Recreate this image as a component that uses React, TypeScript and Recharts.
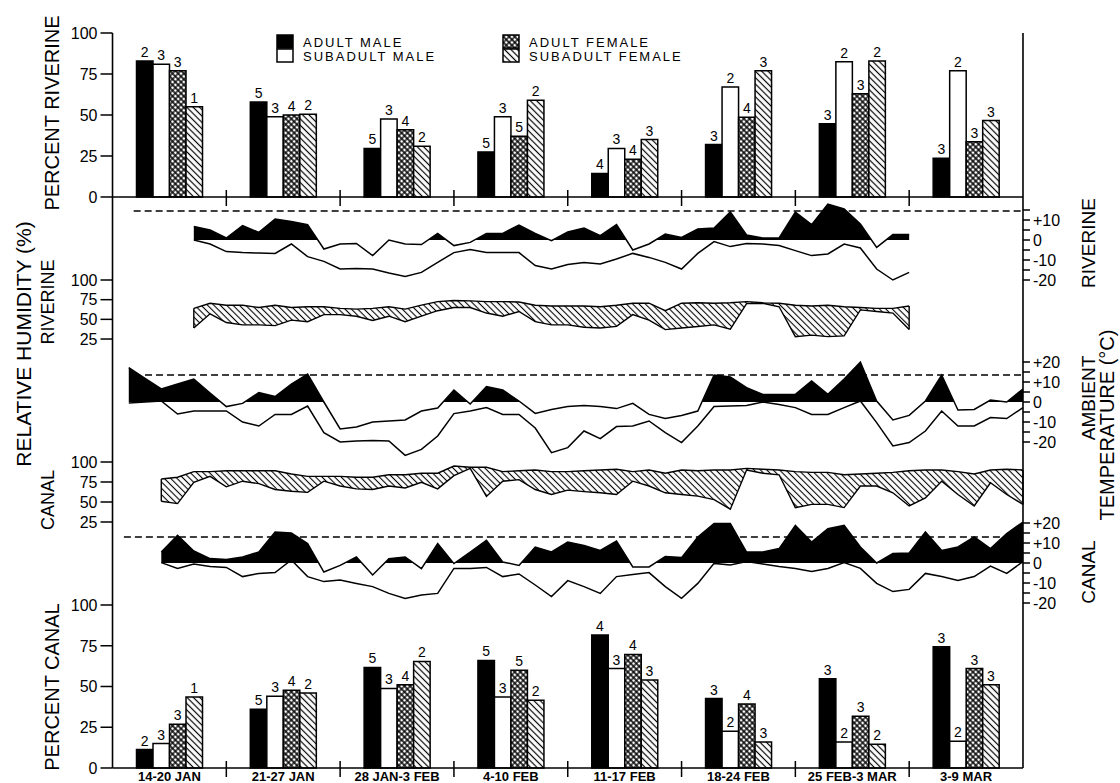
import React from 'react';
import { BarChart, Bar, XAxis, YAxis, LabelList, ComposedChart, Area, Line, ReferenceLine } from 'recharts';

const FONT = '"Liberation Sans", Arial, Helvetica, sans-serif';

const WEEKS = ['14-20 JAN', '21-27 JAN', '28 JAN-3 FEB', '4-10 FEB', '11-17 FEB', '18-24 FEB', '25 FEB-3 MAR', '3-9 MAR'];

// percent of locations in riverine habitat
const RIV_ADULT_M = [83, 58, 29.6, 27.5, 14.4, 32, 44.6, 23.6];
const RIV_SUB_M = [81, 49, 47.6, 49, 29.6, 67, 82.5, 77];
const RIV_ADULT_F = [77, 50, 41, 37, 23, 48.7, 63, 33.7];
const RIV_SUB_F = [55, 50.5, 31, 59, 35, 77, 83, 46.6];

// percent of locations in canal habitat
const CAN_ADULT_M = [11.3, 36, 61.7, 66, 81.6, 42.6, 54.7, 74.4];
const CAN_SUB_M = [15, 44, 48.8, 43.6, 61, 22.5, 16, 16.4];
const CAN_ADULT_F = [26.8, 47.7, 51, 60, 69.7, 39.3, 31.8, 61];
const CAN_SUB_F = [43.6, 46, 65.4, 41.6, 54, 16, 14.5, 51];

// number of animals above each bar
const N_ADULT_M = [2, 5, 5, 5, 4, 3, 3, 3];
const N_SUB_M = [3, 3, 3, 3, 3, 2, 2, 2];
const N_ADULT_F = [3, 4, 4, 5, 4, 4, 3, 3];
const N_SUB_F = [1, 2, 2, 2, 3, 3, 2, 3];

const PCT_TICKS = [0, 25, 50, 75, 100];
const RH_TICKS = [25, 50, 75, 100];
const RIV_T_TICKS = [-20, -15, -10, -5, 0, 5, 10, 15];
const T_TICKS = [-20, -15, -10, -5, 0, 5, 10, 15, 20];

// daily readings, day 1 = 14 Jan, day 56 = 9 Mar
const N_DAYS = 56;

const RIV_FIRST_DAY = 5;
const RIV_TMAX = [6.7, 5, 1, 7.2, 3.8, 10.5, 9.2, 7.7, -4.5, -2, -1.7, -7.8, 0, -2, -2.3, 3.3, -2.8, -1.2, 3.3, 3.3, 7.5, 3.3, -0.3, 4, 6, 2.2, 7.7, -5, -2, 3, 1.3, 5.5, 6, 14, 2.5, 1, 1, 14, 7.7, 18, 15.5, 8, -3.7, 2.7, 2.7];
const RIV_TMIN = [0, -2, -5.8, -6.3, -6.5, -6.7, -2, -8.3, -10.7, -14.5, -14.3, -14.5, -16.5, -18.2, -16.2, -11.2, -6.3, -4.7, -6.2, -6.2, -6.3, -12.8, -14.5, -12.3, -11.2, -12, -9.5, -6.7, -8.7, -11.2, -14.5, -6.7, -0.8, -3.3, -1.7, -2, -2.8, -5.3, -7.8, -7, -2, -4, -14.5, -20, -16.2];
const RIV_RH_MAX = [64, 70.5, 68, 68, 65, 68, 65, 66, 66, 64, 63, 64, 66, 63, 68, 72.5, 74, 73.5, 72.5, 72.5, 72, 68, 67, 67, 67, 66, 68, 70.5, 70.5, 61, 70.5, 71, 70.5, 71, 72.5, 71, 70.5, 68, 67, 68, 66, 65, 64, 64, 67];
const RIV_RH_MIN = [39, 57, 46, 43, 43, 42, 49, 47, 56, 56, 54, 48.5, 54, 47, 54, 61, 65, 65, 58, 54, 60, 47, 43, 43, 40, 39, 41, 56, 49, 37, 39, 41, 43, 37.5, 70, 70.5, 66, 28, 30, 28, 29, 62, 60, 58, 37];
const RIV_DASH = 14.5;

const AMB_FIRST_DAY = 1;
const AMB_TMAX = [17.2, 11.8, 6.5, 9, 11.5, 4.5, -2.3, -0.7, 4.7, 2.7, 9, 14, 0, -13.5, -12.5, -10, -9.5, -9, -4.5, -3, 6, -1, 7.7, 6, 0.5, -5.7, -3.7, -2.3, -1.7, -2.3, -3.3, -0.7, -6.2, -8.3, -6.7, -4.5, 13.5, 12.5, 7.2, 3.8, 3.8, 3.8, 10.5, 3.8, 11.5, 20, 0.5, -9, -6.7, 0.5, 13.5, -4, -3.7, 1, 0, 6.5];
const AMB_TMIN = [-0.5, 0, 0.5, -6, -4.5, -4.5, -4.5, -10, -12, -6.2, -6.2, -2, -15.3, -20, -19.5, -19.2, -19.5, -26.7, -23.7, -17, -5.8, -4.5, -2.8, -6.2, -6.2, -13, -25.3, -22.8, -14.5, -18.3, -12.3, -12, -9.5, -15.3, -20.3, -12, -2.3, -2, -1.7, 0, -1.2, -2.8, -6.2, -6.2, -2.8, 0.5, -10.3, -22, -20.3, -14.5, -4.5, -12, -12, -7.8, -8.3, -2.8];
const AMB_DASH = 13.5;

const CAN_FIRST_DAY = 3;
const CAN_TMAX = [5.5, 13.8, 6, 2.2, 1.7, 3, 5.5, 15.5, 15, 9.7, -4.5, -1.2, 3, -6, 2.2, 3, -2.8, 9.7, -0.3, 5.5, 11.3, 0.5, -1.2, 8, 5.5, 10.5, 8.8, 6.3, 11, -2, -2, 3.3, 2.7, 13, 19.7, 19.7, 5.5, 5.5, 7.2, 18.8, 10.5, 17.2, 18.8, 8, 0, 4.7, 5, 15.5, 6.3, 8, 13, 7.2, 14.7, 20.5];
const CAN_TMIN = [0.2, -2.7, -0.5, -1.8, -2.2, -6.8, -5.2, -4.8, 1.5, -6.8, -9.3, -8.5, -10.2, -11.8, -15.2, -17.7, -16, -15.2, -2.7, -2.7, -2.2, -6.8, -5.5, -11, -16.8, -8.8, -11.8, -15.2, -6.8, -5.8, -4.8, -11.8, -17.7, -10.2, -0.2, -1, 0.7, -0.5, -1.8, -2.7, -4.3, -2.7, 0.2, -2.7, -10.2, -14.3, -13.2, -5.2, -6.8, -8.8, -6.8, -1.5, -5.2, 0.7];
const CAN_RH_MAX = [78.7, 81, 88, 88, 89, 89, 89, 89, 85, 82, 82, 82, 81, 81, 84, 84, 86, 86, 95, 93.5, 93.5, 88, 89, 90, 88, 88, 89, 90, 91, 88, 90, 86, 90, 89, 90, 90, 92, 91, 90, 88, 87, 87, 84, 85, 86, 87, 89, 90, 90, 88, 85, 90, 91, 90];
const CAN_RH_MIN = [51, 48, 74.6, 82, 69, 76, 73, 65.6, 63.5, 62, 76, 70, 66.4, 65.6, 70, 67.6, 74.6, 66.4, 83, 92, 57, 76, 78, 65.6, 59.4, 64.8, 63, 61.5, 59.4, 76, 70, 61.5, 59.4, 57.4, 53, 41, 90, 86, 84, 43, 47, 47, 43, 70, 70, 61.5, 45, 55, 76, 59.4, 45, 74, 59.4, 47];
const CAN_DASH = 13;

// ---- layout ----
const W = 1120;
const PLOT_L = 112.5;
const PLOT_R = 1023;
const BAND = (PLOT_R - PLOT_L) / WEEKS.length;
const MID_TOP = 197;
const MID_BOT = 605;
const THIN = 0.01; // axes need a non-zero size to be drawn

const tempDomain = (zeroPx: number, pxPerDeg: number) => [-(MID_BOT - zeroPx) / pxPerDeg, (zeroPx - MID_TOP) / pxPerDeg];
const rhDomain = (px100: number, pxPerPct: number) => [100 - (MID_BOT - px100) / pxPerPct, 100 + (px100 - MID_TOP) / pxPerPct];

const pick = (arr: number[], first: number, day: number) => {
  const k = day - first;
  return k >= 0 && k < arr.length ? arr[k] : null;
};

const dayRows = Array.from({ length: N_DAYS }, (_, i) => {
  const day = i + 1;
  return {
    day,
    rivMax: pick(RIV_TMAX, RIV_FIRST_DAY, day),
    rivMin: pick(RIV_TMIN, RIV_FIRST_DAY, day),
    rivRhMax: pick(RIV_RH_MAX, RIV_FIRST_DAY, day),
    rivRhMin: pick(RIV_RH_MIN, RIV_FIRST_DAY, day),
    ambMax: pick(AMB_TMAX, AMB_FIRST_DAY, day),
    ambMin: pick(AMB_TMIN, AMB_FIRST_DAY, day),
    canMax: pick(CAN_TMAX, CAN_FIRST_DAY, day),
    canMin: pick(CAN_TMIN, CAN_FIRST_DAY, day),
    canRhMax: pick(CAN_RH_MAX, CAN_FIRST_DAY, day),
    canRhMin: pick(CAN_RH_MIN, CAN_FIRST_DAY, day),
  };
});

const weekRows = (am: number[], sm: number[], af: number[], sf: number[]) =>
  WEEKS.map((week, i) => ({
    week,
    am: am[i], sm: sm[i], af: af[i], sf: sf[i],
    nAm: N_ADULT_M[i], nSm: N_SUB_M[i], nAf: N_ADULT_F[i], nSf: N_SUB_F[i],
  }));

const rivRows = weekRows(RIV_ADULT_M, RIV_SUB_M, RIV_ADULT_F, RIV_SUB_F);
const canRows = weekRows(CAN_ADULT_M, CAN_SUB_M, CAN_ADULT_F, CAN_SUB_F);

// fraction of the area's bounding box that lies above zero
const zeroOffset = (vals: number[]) => {
  const hi = Math.max(...vals);
  const lo = Math.min(0, ...vals);
  return hi / (hi - lo);
};

// end points of a humidity band, used to close it with a vertical edge
const bandEnds = (first: number, lo: number[], hi: number[]) => [
  { x: first, lo: lo[0], hi: hi[0] },
  { x: first + lo.length - 1, lo: lo[lo.length - 1], hi: hi[hi.length - 1] },
];

const Patterns = ({ id }: { id: string }) => (
  <defs>
    <pattern id={`cross-${id}`} width={4} height={4} patternUnits="userSpaceOnUse" patternTransform="rotate(45)">
      <rect width={4} height={4} fill="#fff" />
      <path d="M2 0 V4 M0 2 H4" stroke="#000" strokeWidth={1.3} />
    </pattern>
    <pattern id={`hatch-${id}`} width={4.5} height={4.5} patternUnits="userSpaceOnUse" patternTransform="rotate(-45)">
      <rect width={4.5} height={4.5} fill="#fff" />
      <line x1={2.25} y1={0} x2={2.25} y2={4.5} stroke="#000" strokeWidth={1.2} />
    </pattern>
  </defs>
);

const LeftTick = (props: any) => {
  const { x, y, payload } = props;
  return (
    <g>
      <line x1={x - 12} x2={x} y1={y} y2={y} stroke="#000" strokeWidth={1.5} />
      <text x={x - 15} y={y} dy="0.36em" textAnchor="end" fontSize={16} fontFamily={FONT} fill="#000">
        {payload.value}
      </text>
    </g>
  );
};

const RightTick = (props: any) => {
  const { x, y, payload } = props;
  const v = payload.value;
  const txt = v > 0 ? `+${v}` : `${v}`;
  return (
    <g>
      <line x1={x} x2={x + 7} y1={y} y2={y} stroke="#000" strokeWidth={1.5} />
      {v % 10 === 0 && (
        <text x={x + 10} y={y} dy="0.36em" textAnchor="start" fontSize={16} fontFamily={FONT} fill="#000">
          {txt}
        </text>
      )}
    </g>
  );
};

const WeekTick = (props: any) => {
  const { x, y, index, payload, showLabel } = props;
  return (
    <g>
      {index > 0 && <line x1={x - BAND / 2} x2={x - BAND / 2} y1={y - 7} y2={y + 9} stroke="#000" strokeWidth={1.5} />}
      {showLabel && (
        <text x={x} y={y + 13.5} textAnchor="middle" fontSize={13} fontWeight="bold" fontFamily={FONT} fill="#000">
          {payload.value}
        </text>
      )}
    </g>
  );
};

const labelStyle = { fontSize: 14, fontFamily: FONT, fill: '#000' };
const axisLine = { stroke: '#000', strokeWidth: 1.6 };

const PercentChart = ({ id, rows, top, height, mTop, mBottom, showLabels }: any) => (
  <div style={{ position: 'absolute', left: 0, top }}>
    <BarChart
      width={W}
      height={height}
      data={rows}
      barGap={0}
      barSize={16.5}
      margin={{ top: mTop, bottom: mBottom, left: PLOT_L, right: W - PLOT_R }}
    >
      <Patterns id={id} />
      <XAxis
        dataKey="week"
        height={THIN}
        interval={0}
        tickLine={false}
        tickSize={0}
        tickMargin={0}
        axisLine={axisLine}
        tick={(p: any) => <WeekTick {...p} showLabel={showLabels} />}
      />
      <YAxis
        width={THIN}
        domain={[0, 100]}
        ticks={PCT_TICKS}
        interval={0}
        tickLine={false}
        tickSize={0}
        tickMargin={0}
        axisLine={axisLine}
        tick={<LeftTick />}
      />
      <YAxis yAxisId="r" orientation="right" width={THIN} domain={[0, 100]} tick={false} tickLine={false} axisLine={axisLine} />
      <Bar dataKey="am" fill="#000" stroke="#000" strokeWidth={1.5} isAnimationActive={false}>
        <LabelList dataKey="nAm" position="top" offset={4} style={labelStyle} />
      </Bar>
      <Bar dataKey="sm" fill="#fff" stroke="#000" strokeWidth={1.5} isAnimationActive={false}>
        <LabelList dataKey="nSm" position="top" offset={4} style={labelStyle} />
      </Bar>
      <Bar dataKey="af" fill={`url(#cross-${id})`} stroke="#000" strokeWidth={1.5} isAnimationActive={false}>
        <LabelList dataKey="nAf" position="top" offset={4} style={labelStyle} />
      </Bar>
      <Bar dataKey="sf" fill={`url(#hatch-${id})`} stroke="#000" strokeWidth={1.5} isAnimationActive={false}>
        <LabelList dataKey="nSf" position="top" offset={4} style={labelStyle} />
      </Bar>
    </BarChart>
  </div>
);

const VText = ({ x, y, size, children }: any) => (
  <text
    transform={`translate(${x},${y}) rotate(-90)`}
    textAnchor="middle"
    dominantBaseline="central"
    fontSize={size}
    fontFamily={FONT}
    fill="#000"
  >
    {children}
  </text>
);

const LegendRow = ({ x, y, fill, label }: any) => (
  <g>
    <rect x={x} y={y} width={16} height={13} fill={fill} stroke="#000" strokeWidth={1.5} />
    <text x={x + 26} y={y + 11.5} fontSize={13} letterSpacing={2} fontFamily={FONT} fill="#000">
      {label}
    </text>
  </g>
);

const rivOff = zeroOffset(RIV_TMAX);
const ambOff = zeroOffset(AMB_TMAX);
const canOff = zeroOffset(CAN_TMAX);
const rivEnds = bandEnds(RIV_FIRST_DAY, RIV_RH_MIN, RIV_RH_MAX);
const canEnds = bandEnds(CAN_FIRST_DAY, CAN_RH_MIN, CAN_RH_MAX);

const lineProps = { stroke: '#000', strokeWidth: 1.5, dot: false, activeDot: false, isAnimationActive: false, connectNulls: false, type: 'linear' as const };
const dashProps = { stroke: '#000', strokeWidth: 1.3, strokeDasharray: '7 4', ifOverflow: 'visible' as const };
const edgeProps = { stroke: '#000', strokeWidth: 1.4, ifOverflow: 'visible' as const };
const tickOnly = { tickLine: false, tickSize: 0, tickMargin: 0, interval: 0 as const };
const MID_PAD_BOTTOM = 20;

export default function App() {
  return (
    <div style={{ position: 'absolute', left: 0, top: 0, width: W, height: 783, background: '#fff', overflow: 'hidden' }}>
      <div style={{ position: 'absolute', left: 0, top: MID_TOP - 7 }}>
        <ComposedChart
          width={W}
          height={MID_BOT - MID_TOP + 7 + MID_PAD_BOTTOM}
          data={dayRows}
          margin={{ top: 7, bottom: MID_PAD_BOTTOM, left: PLOT_L, right: W - PLOT_R }}
        >
          <defs>
            <linearGradient id="gRiv" x1="0" y1="0" x2="0" y2="1">
              <stop offset={rivOff} stopColor="#000" stopOpacity={1} />
              <stop offset={rivOff} stopColor="#000" stopOpacity={0} />
            </linearGradient>
            <linearGradient id="gAmb" x1="0" y1="0" x2="0" y2="1">
              <stop offset={ambOff} stopColor="#000" stopOpacity={1} />
              <stop offset={ambOff} stopColor="#000" stopOpacity={0} />
            </linearGradient>
            <linearGradient id="gCan" x1="0" y1="0" x2="0" y2="1">
              <stop offset={canOff} stopColor="#000" stopOpacity={1} />
              <stop offset={canOff} stopColor="#000" stopOpacity={0} />
            </linearGradient>
            <pattern id="rhHatch" width={4.5} height={4.5} patternUnits="userSpaceOnUse" patternTransform="rotate(-45)">
              <rect width={4.5} height={4.5} fill="#fff" />
              <line x1={2.25} y1={0} x2={2.25} y2={4.5} stroke="#000" strokeWidth={1.1} />
            </pattern>
          </defs>
          <XAxis dataKey="day" type="number" domain={[0, N_DAYS]} hide />
          <YAxis yAxisId="rt" orientation="right" width={THIN} domain={tempDomain(240, 2)} ticks={RIV_T_TICKS}
            {...tickOnly} axisLine={axisLine} tick={<RightTick />} />
          <YAxis yAxisId="at" orientation="right" width={THIN} domain={tempDomain(402, 2)} ticks={T_TICKS}
            {...tickOnly} axisLine={false} tick={<RightTick />} />
          <YAxis yAxisId="ct" orientation="right" width={THIN} domain={tempDomain(563, 2)} ticks={T_TICKS}
            {...tickOnly} axisLine={false} tick={<RightTick />} />
          <YAxis yAxisId="rh" orientation="left" width={THIN} domain={rhDomain(280, 0.787)} ticks={RH_TICKS}
            {...tickOnly} axisLine={axisLine} tick={<LeftTick />} />
          <YAxis yAxisId="ch" orientation="left" width={THIN} domain={rhDomain(462, 0.8)} ticks={RH_TICKS}
            {...tickOnly} axisLine={false} tick={<LeftTick />} />

          <ReferenceLine yAxisId="rt" segment={[{ x: 1.3, y: RIV_DASH }, { x: N_DAYS, y: RIV_DASH }]} {...dashProps} />
          <ReferenceLine yAxisId="at" segment={[{ x: 2, y: AMB_DASH }, { x: N_DAYS, y: AMB_DASH }]} {...dashProps} />
          <ReferenceLine yAxisId="ct" segment={[{ x: 0.7, y: CAN_DASH }, { x: N_DAYS, y: CAN_DASH }]} {...dashProps} />

          <Area yAxisId="rt" dataKey="rivMax" baseValue={0} fill="url(#gRiv)" fillOpacity={1} stroke="none" isAnimationActive={false} connectNulls={false} dot={false} activeDot={false} />
          <Line yAxisId="rt" dataKey="rivMax" {...lineProps} />
          <Line yAxisId="rt" dataKey="rivMin" {...lineProps} />
          <Area yAxisId="rh" dataKey={(d: any) => (d.rivRhMin == null ? null : [d.rivRhMin, d.rivRhMax])} fill="url(#rhHatch)" fillOpacity={1}
            stroke="#000" strokeWidth={1.4} isAnimationActive={false} connectNulls={false} dot={false} activeDot={false} />
          {rivEnds.map((e) => (
            <ReferenceLine key={`re${e.x}`} yAxisId="rh" segment={[{ x: e.x, y: e.lo }, { x: e.x, y: e.hi }]} {...edgeProps} />
          ))}

          <Area yAxisId="at" dataKey="ambMax" baseValue={0} fill="url(#gAmb)" fillOpacity={1} stroke="none" isAnimationActive={false} connectNulls={false} dot={false} activeDot={false} />
          <Line yAxisId="at" dataKey="ambMax" {...lineProps} />
          <Line yAxisId="at" dataKey="ambMin" {...lineProps} />

          <Area yAxisId="ch" dataKey={(d: any) => (d.canRhMin == null ? null : [d.canRhMin, d.canRhMax])} fill="url(#rhHatch)" fillOpacity={1}
            stroke="#000" strokeWidth={1.4} isAnimationActive={false} connectNulls={false} dot={false} activeDot={false} />
          {canEnds.map((e) => (
            <ReferenceLine key={`ce${e.x}`} yAxisId="ch" segment={[{ x: e.x, y: e.lo }, { x: e.x, y: e.hi }]} {...edgeProps} />
          ))}

          <Area yAxisId="ct" dataKey="canMax" baseValue={0} fill="url(#gCan)" fillOpacity={1} stroke="none" isAnimationActive={false} connectNulls={false} dot={false} activeDot={false} />
          <Line yAxisId="ct" dataKey="canMax" {...lineProps} />
          <Line yAxisId="ct" dataKey="canMin" {...lineProps} />
        </ComposedChart>
      </div>

      <PercentChart id="riv" rows={rivRows} top={0} height={215} mTop={33} mBottom={18} showLabels={false} />
      <PercentChart id="can" rows={canRows} top={590} height={193} mTop={15} mBottom={15} showLabels={true} />

      <svg width={W} height={783} style={{ position: 'absolute', left: 0, top: 0, pointerEvents: 'none' }}>
        <Patterns id="leg" />
        <LegendRow x={277} y={35} fill="#000" label="ADULT MALE" />
        <LegendRow x={277} y={49} fill="#fff" label="SUBADULT MALE" />
        <LegendRow x={503} y={35} fill="url(#cross-leg)" label="ADULT FEMALE" />
        <LegendRow x={503} y={49} fill="url(#hatch-leg)" label="SUBADULT FEMALE" />

        <VText x={52} y={113} size={20}>PERCENT RIVERINE</VText>
        <VText x={23} y={344} size={21}>RELATIVE HUMIDITY (%)</VText>
        <VText x={48} y={302} size={18}>RIVERINE</VText>
        <VText x={48} y={500} size={18}>CANAL</VText>
        <VText x={52} y={687} size={20}>PERCENT CANAL</VText>

        <VText x={1088} y={243} size={19}>RIVERINE</VText>
        <VText x={1088} y={398} size={19}>AMBIENT</VText>
        <VText x={1088} y={572} size={19}>CANAL</VText>
        <VText x={1107} y={425} size={20}>TEMPERATURE (°C)</VText>
      </svg>
    </div>
  );
}
